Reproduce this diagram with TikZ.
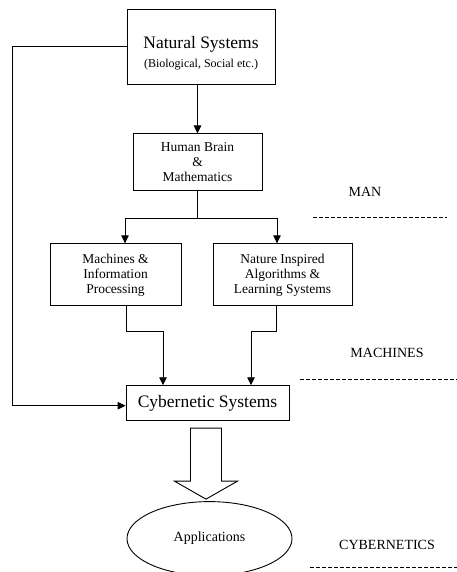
\documentclass[tikz,border=0pt]{standalone}
\usepackage{fontspec}
\setmainfont{Liberation Serif}
\usepackage{tikz}
\usetikzlibrary{arrows.meta, positioning, calc, shapes.geometric}

\begin{document}
\begin{tikzpicture}[
    x=1pt, y=1pt,
    node distance=50pt,
    box/.style={rectangle, draw, line width=0.9pt, align=center, inner sep=0pt, font=\fontsize{13.5}{15}\selectfont},
    arrow/.style={-{Triangle[length=8pt,width=7.5pt]}, line width=0.9pt},
    line/.style={line width=0.9pt},
    tag/.style={font=\fontsize{14}{16}\selectfont},
    sep/.style={line width=0.8pt, dash pattern=on 4pt off 2pt}
]
\useasboundingbox (0,0) rectangle (457,-572);

% Layer 1: Nature and Man
\node[box, minimum width=148pt, minimum height=75pt] (nat) at (201,-46.5) {\fontsize{17.5}{20}\selectfont\rule{0pt}{26pt}Natural Systems\\[4pt]\fontsize{12}{20}\selectfont (Biological, Social etc.)};
\node[box, minimum width=129pt, minimum height=57pt, below=49pt of nat, xshift=-3.5pt] (brain) {Human Brain\\\&\\Mathematics};
\draw[arrow] (brain.north |- nat.south) -- (brain.north);

% Layer 2: Machines
\node[box, minimum width=131pt, minimum height=62pt, below=52pt of brain, xshift=-82pt] (mach) {Machines \&\\Information\\Processing};
\node[box, minimum width=139pt, minimum height=62pt, below=52pt of brain, xshift=85pt] (nia) {Nature Inspired\\Algorithms \&\\Learning Systems};
\draw[line] (brain.south) -- ++(0,-27) coordinate (split);
\draw[arrow] (split) -| ($(mach.north)+(9.5,0)$);
\draw[arrow] (split) -| ($(nia.north)+(-5.5,0)$);

% Layer 3: Cybernetics
\node[box, minimum width=163pt, minimum height=35pt, below=79pt of mach, xshift=92pt, font=\fontsize{17.5}{20}\selectfont] (cyb) {Cybernetic Systems};
\node[ellipse, draw, line width=0.9pt, minimum width=165pt, minimum height=74pt, inner sep=0pt, below=80pt of cyb, xshift=2pt, font=\fontsize{14}{16}\selectfont] (apps) {Applications};
\draw[arrow] ($(mach.south)+(10.5,0)$) -- ++(0,-25) -| ($(cyb.north)+(-44.5,0)$);
\draw[arrow] ($(nia.south)+(-6.5,0)$) -- ++(0,-25) -| ($(cyb.north)+(43.5,0)$);
\draw[arrow] (nat.west) -- ++(-114,0) |- ($(cyb.west)+(0,-2.5)$);

% Block arrow to applications
\coordinate (base) at ($(cyb.south)+(-17,-7)$);
\draw[line] (base) -- ++(31,0) -- ++(0,-53) -- ++(16,0) -- ++(-31.5,-18) -- ++(-31.5,18) -- ++(16,0) -- cycle;

% Level labels
\node[tag] (man) at (365,-192) {MAN};
\node[tag] (machines) at (387,-353) {MACHINES};
\node[tag] (cybernetics) at (387,-545) {CYBERNETICS};
\draw[sep] (313,-217) -- (447,-217);
\draw[sep] (300,-379) -- (457,-379);
\draw[sep] (310,-567) -- (457,-567);

\end{tikzpicture}
\end{document}
